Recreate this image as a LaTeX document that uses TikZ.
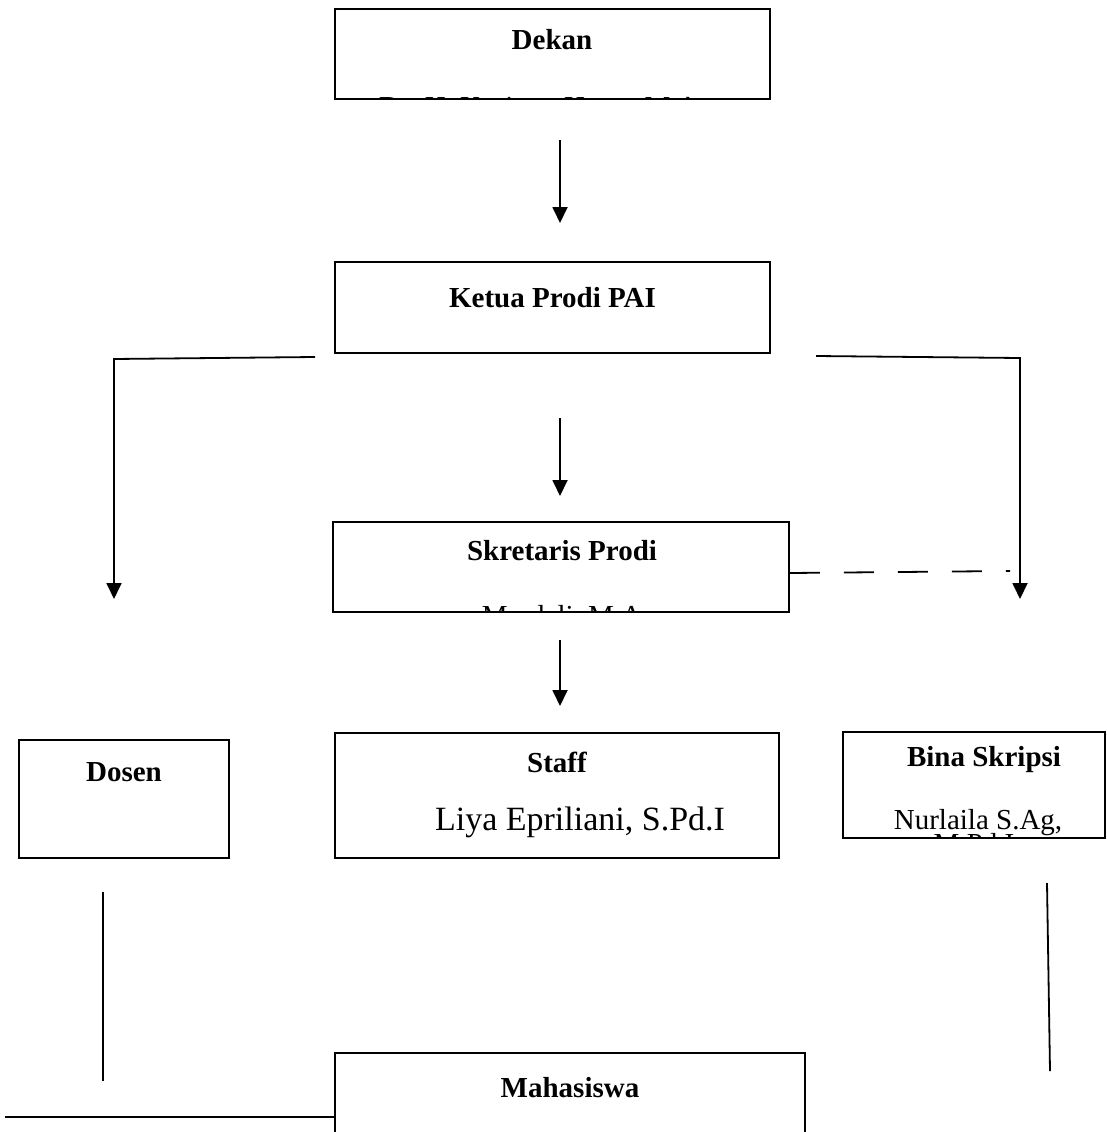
\documentclass[tikz,border=0pt]{standalone}
\usepackage{fontspec}
\setmainfont{Liberation Serif}
\usetikzlibrary{arrows.meta}
\tikzset{
  box/.style={draw=black, line width=1.6pt, inner sep=0pt},
  ttl/.style={font=\fontsize{29}{34}\selectfont\bfseries, inner sep=0pt},
  nm/.style={font=\fontsize{29}{34}\selectfont, inner sep=0pt},
  nmbig/.style={font=\fontsize{34}{40}\selectfont, inner sep=0pt},
  conn/.style={draw=black, line width=1.8pt},
  arr/.style={conn, -{Triangle[width=15pt,length=16pt]}},
  dashconn/.style={conn, dash pattern=on 30pt off 24pt}
}
\begin{document}
\begin{tikzpicture}[x=1pt,y=-1pt]
\clip (0,0) rectangle (1107,1132);
\fill[white] (0,0) rectangle (1107,1132);

% boxes
\node[box, minimum width=435pt, minimum height=90pt] (dekan) at (552.5,54) {};
\node[box, minimum width=435pt, minimum height=91pt] (ketua) at (552.5,307.5) {};
\node[box, minimum width=456pt, minimum height=90pt] (skr) at (561,567) {};
\node[box, minimum width=210pt, minimum height=118pt] (dosen) at (124,799) {};
\node[box, minimum width=444pt, minimum height=125pt] (staff) at (557,795.5) {};
\node[box, minimum width=262pt, minimum height=106pt] (bina) at (974,785) {};
\node[box, minimum width=470pt, minimum height=100pt] (mhs) at (570,1103) {};

% texts
\node[ttl] (tdekan) at (552,40) {Dekan};
\begin{scope}
\clip (dekan.south west) rectangle (dekan.north east);
\node[nm, anchor=base] (ndekan) at (546,116) {Dr. H. Kasinyo Harto, M.Ag};
\end{scope}
\node[ttl] (tketua) at (552.5,298) {Ketua Prodi PAI};
\node[ttl] (tskr) at (562,551) {Skretaris Prodi};
\begin{scope}
\clip (skr.south west) rectangle (skr.north east);
\node[nm, anchor=base] (nskr) at (562,625) {Mardeli, M.A};
\end{scope}
\node[ttl] (tdosen) at (124,772) {Dosen};
\node[ttl] (tstaff) at (557,762) {Staff};
\node[nmbig] (nstaff) at (580,822) {Liya Epriliani, S.Pd.I};
\node[ttl] (tbina) at (984,760) {Bina Skripsi};
\node[nm] (nbina) at (978,823) {Nurlaila S.Ag,};
\begin{scope}
\clip (bina.south west) rectangle (bina.north east);
\node[nm, anchor=base] (nbina2) at (974,853) {M.Pd.I};
\end{scope}
\node[ttl] (tmhs) at (570,1088) {Mahasiswa};

% connector coordinates
\coordinate (a1s) at (560,140); \coordinate (a1e) at (560,223);
\coordinate (a2s) at (560,418); \coordinate (a2e) at (560,496);
\coordinate (a3s) at (560,640); \coordinate (a3e) at (560,706);
\coordinate (ls) at (315,357); \coordinate (lc) at (114,359); \coordinate (le) at (114,599);
\coordinate (rs) at (816,356); \coordinate (rc) at (1020,358); \coordinate (re) at (1020,599);
\coordinate (ds) at (1010,571);
\coordinate (lvs) at (103,892); \coordinate (lve) at (103,1081);
\coordinate (rvs) at (1047,883); \coordinate (rve) at (1050,1071);
\coordinate (bls) at (5,1117);
\coordinate (ble) at (mhs.west |- bls);

% connectors
\draw[arr] (a1s) -- (a1e);
\draw[arr] (a2s) -- (a2e);
\draw[arr] (a3s) -- (a3e);
\draw[arr] (ls) -- (lc) -- (le);
\draw[arr] (rs) -- (rc) -- (re);
\draw[dashconn] (skr.east |- 0,573) -- (ds);
\draw[conn] (lvs) -- (lve);
\draw[conn] (rvs) -- (rve);
\draw[conn] (bls) -- (ble);
\end{tikzpicture}
\end{document}
